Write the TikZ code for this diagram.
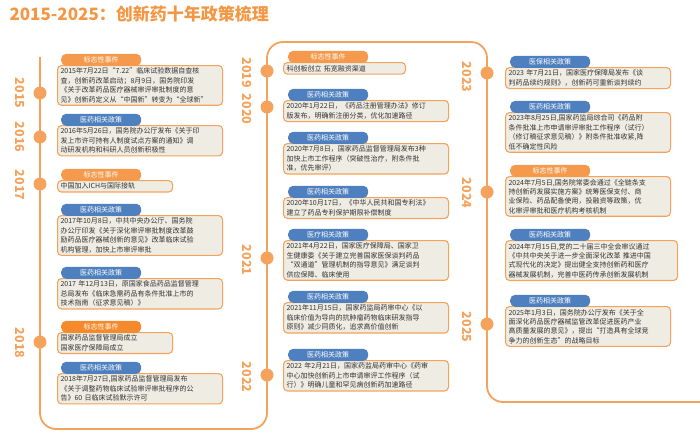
\documentclass[tikz,border=0pt]{standalone}
\usepackage{fontspec}
\setmainfont{Noto Sans CJK SC}
\usetikzlibrary{positioning}
\definecolor{lineorange}{HTML}{F5A35C}
\definecolor{tagorange}{HTML}{F59A4C}
\definecolor{tagdeep}{HTML}{F58A2C}
\definecolor{tagblue}{HTML}{4E7FBE}
\definecolor{boxfill}{HTML}{EFEDE3}
\definecolor{titleorange}{HTML}{F39744}
\tikzstyle{timeline}=[draw=lineorange,line width=1.8pt,rounded corners=16pt]
\tikzstyle{yeardot}=[circle,draw=none,fill=lineorange,minimum size=13pt,inner sep=0pt]
\tikzstyle{year}=[rotate=-90,text=lineorange,font=\bfseries\fontsize{12.5}{12.5}\selectfont]
\tikzstyle{card}=[draw=lineorange,fill=boxfill,line width=1.1pt,rounded corners=4pt,anchor=north west,align=left,inner xsep=3pt,inner ysep=2.5pt,font=\fontsize{7}{9.4}\selectfont,text=black!80]
\tikzstyle{tag}=[rounded corners=5pt,minimum width=80pt,minimum height=12pt,inner sep=0pt,anchor=south west,text=white,font=\fontsize{7}{7}\selectfont]
\tikzstyle{event}=[tag,fill=tagorange]
\tikzstyle{policy}=[tag,fill=tagblue]

\begin{document}
\begin{tikzpicture}[x=1pt,y=-1pt]
    \useasboundingbox (0,0) rectangle (700,434);

    \node[anchor=west,text=titleorange,font=\bfseries\fontsize{17}{17}\selectfont] (title) at (6,14) {2015-2025：创新药十年政策梳理};

    % timeline
    \draw[timeline] (40,57) -- (40,429) -- (267,429) -- (267,42) -- (487,42) -- (487,402) -- (700,402);

    \foreach \pos/\name in {{(40,93)/d15}, {(40,137)/d16}, {(40,184)/d17}, {(40,342)/d18},
        {(267,71)/d19}, {(267,107)/d20}, {(267,258)/d21}, {(267,375)/d22},
        {(487,73)/d23}, {(487,192)/d24}, {(487,324)/d25}}
        \node[yeardot] (\name) at \pos {};

    \foreach \pos/\name/\txt in {{(20,93)/y15/2015}, {(20,137)/y16/2016}, {(20,185)/y17/2017}, {(20,343)/y18/2018},
        {(247,91)/y20/2019\ \ 2020}, {(247,260)/y21/2021}, {(247,377)/y22/2022},
        {(467,77)/y23/2023}, {(467,193)/y24/2024}, {(467,327)/y25/2025}}
        \node[year] (\name) at \pos {\txt};

    % left column
    \node[card,text width=159pt] (a1) at (57,65) {2015年7月22日“7.22”临床试验数据自查核\\查，创新药改革启动；8月9日，国务院印发\\《关于改革药品医疗器械审评审批制度的意\\见》创新药定义从“中国新”转变为“全球新”};
    \node[event] (ta1) at (61,66) {标志性事件};
    \node[card,text width=159pt] (a2) at (57,125) {2016年5月26日，国务院办公厅发布《关于印\\发上市许可持有人制度试点方案的通知》调\\动研发机构和科研人员创新积极性};
    \node[policy] (ta2) at (61,126) {医药相关政策};
    \node[card,text width=109pt] (a3) at (57,180) {中国加入ICH与国际接轨};
    \node[event] (ta3) at (61,181) {标志性事件};
    \node[card,text width=159pt] (a4) at (57,215) {2017年10月8日，中共中央办公厅、国务院\\办公厅印发《关于深化审评审批制度改革鼓\\励药品医疗器械创新的意见》改革临床试验\\机构管理，加快上市审评审批};
    \node[policy] (ta4) at (61,216) {医药相关政策};
    \node[card,text width=159pt] (a5) at (57,278) {2017 年12月13日，原国家食品药品监督管理\\总局发布《临床急需药品有条件批准上市的\\技术指南（征求意见稿）》};
    \node[policy] (ta5) at (61,279) {医药相关政策};
    \node[card,text width=109pt] (a6) at (57,332) {国家药品监督管理局成立\\国家医疗保障局成立};
    \node[event,fill=tagdeep] (ta6) at (61,333) {标志性事件};
    \node[card,text width=159pt] (a7) at (57,373) {2018年7月27日,国家药品监督管理局发布\\《关于调整药物临床试验审评审批程序的公\\告》60 日临床试验默示许可};
    \node[policy] (ta7) at (61,374) {医药相关政策};

    % middle column
    \node[card,text width=116pt] (b1) at (283,62) {科创板创立 拓宽融资渠道};
    \node[event] (tb1) at (288,63) {标志性事件};
    \node[card,text width=159pt] (b2) at (283,100) {2020年1月22日，《药品注册管理办法》修订\\版发布，明确新注册分类，优化加速路径};
    \node[policy] (tb2) at (288,101) {医药相关政策};
    \node[card,text width=159pt] (b3) at (283,143) {2020年7月8日，国家药品监督管理局发布3种\\加快上市工作程序（突破性治疗，附条件批\\准，优先审评）};
    \node[policy] (tb3) at (288,144) {医药相关政策};
    \node[card,text width=159pt] (b4) at (283,197) {2020年10月17日，《中华人民共和国专利法》\\建立了药品专利保护期限补偿制度};
    \node[policy] (tb4) at (288,198) {医药相关政策};
    \node[card,text width=159pt] (b5) at (283,240) {2021年4月22日，国家医疗保障局、国家卫\\生健康委《关于建立完善国家医保谈判药品\\“双通道”管理机制的指导意见》满足谈判\\供应保障、临床使用};
    \node[policy] (tb5) at (288,241) {医疗相关政策};
    \node[card,text width=159pt] (b6) at (283,302) {2021年11月15日，国家药监局药审中心《以\\临床价值为导向的抗肿瘤药物临床研发指导\\原则》减少同质化，追求高价值创新};
    \node[policy] (tb6) at (288,303) {医药相关政策};
    \node[card,text width=159pt] (b7) at (283,360) {2022 年2月21日，国家药监局药审中心《药审\\中心加快创新药上市申请审评工作程序（试\\行）》明确儿童和罕见病创新药加速路径};
    \node[policy] (tb7) at (288,361) {医药相关政策};

    % right column
    \node[card,text width=159pt] (c1) at (505,67) {2023 年7月21日，国家医疗保障局发布《谈\\判药品续约规则》，创新药可重新谈判续约};
    \node[policy] (tc1) at (510,68) {医保相关政策};
    \node[card,text width=159pt] (c2) at (505,112) {2023年8月25日,国家药监局综合司《药品附\\条件批准上市申请审评审批工作程序（试行）\\（修订稿征求意见稿）》附条件批准收紧,降\\低不确定性风险};
    \node[policy] (tc2) at (510,113) {医药相关政策};
    \node[card,text width=159pt] (c3) at (505,176) {2024年7月5日,国务院常委会通过《全链条支\\持创新药发展实施方案》统筹医保支付、商\\业保险、药品配备使用，投融资等政策，优\\化审评审批和医疗机构考核机制};
    \node[event] (tc3) at (510,177) {标志性事件};
    \node[card,text width=166pt] (c4) at (505,240) {2024年7月15日,党的二十届三中全会审议通过\\《中共中央关于进一步全面深化改革 推进中国\\式现代化的决定》提出健全支持创新药和医疗\\器械发展机制，完善中医药传承创新发展机制};
    \node[policy] (tc4) at (510,241) {医药相关政策};
    \node[card,text width=159pt] (c5) at (505,306) {2025年1月3日，国务院办公厅发布《关于全\\面深化药品医疗器械监管改革促进医药产业\\高质量发展的意见》，提出“打造具有全球竞\\争力的创新生态”的战略目标};
    \node[policy] (tc5) at (510,307) {医药相关政策};

\end{tikzpicture}
\end{document}
